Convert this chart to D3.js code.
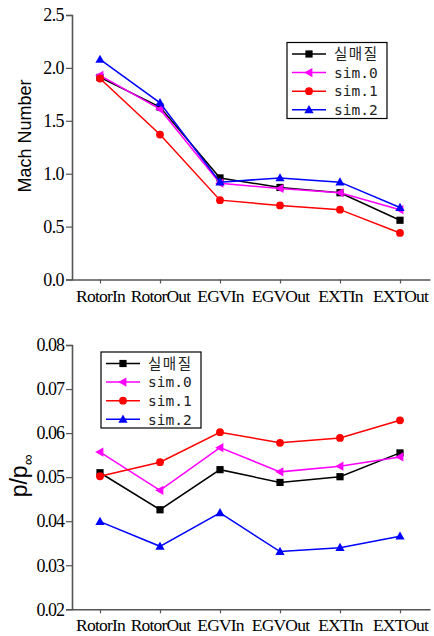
<!DOCTYPE html>
<html>
<head>
<meta charset="utf-8">
<script src="https://cdn.jsdelivr.net/npm/d3@7"></script>
<style>
  body { margin: 0; background: #fff; }
  svg { display: block; }
  .tick text { font-family: 'Liberation Serif', 'DejaVu Serif', serif; }
</style>
</head>
<body>
<div id="viz"></div>
<script>
// categories along x
var categories = ['RotorIn', 'RotorOut', 'EGVIn', 'EGVOut', 'EXTIn', 'EXTOut'];
var seriesNames = ['실매질', 'sim.0', 'sim.1', 'sim.2'];

// top chart - Mach number
var machReal = [1.91, 1.63, 0.96, 0.87, 0.82, 0.56];
var machSim0 = [1.93, 1.61, 0.91, 0.86, 0.82, 0.66];
var machSim1 = [1.90, 1.37, 0.75, 0.70, 0.66, 0.44];
var machSim2 = [2.08, 1.67, 0.92, 0.96, 0.92, 0.68];
var machTicks = [0.0, 0.5, 1.0, 1.5, 2.0, 2.5];

// bottom chart - p/p00
var presReal = [0.0510, 0.0426, 0.0517, 0.0488, 0.0501, 0.0555];
var presSim0 = [0.0557, 0.0470, 0.0567, 0.0512, 0.0525, 0.0546];
var presSim1 = [0.0502, 0.0534, 0.0602, 0.0578, 0.0589, 0.0629];
var presSim2 = [0.0399, 0.0343, 0.0419, 0.0331, 0.0340, 0.0366];
var presTicks = [0.02, 0.03, 0.04, 0.05, 0.06, 0.07, 0.08];

var colors = ['#000000', '#ff00ff', '#ff0000', '#0000ff'];
var shapes = ['square', 'left', 'circle', 'up'];

var width = 434, height = 636;
var axisColor = '#555';
var serif = 'Liberation Serif';

var svg = d3.select('#viz').append('svg')
  .attr('width', width)
  .attr('height', height);

var xScale = d3.scaleLinear()
  .domain([-0.4667, 5.5])
  .range([72, 430]);

function marker(g, shape, color, x, y) {
  if (shape == 'square') {
    g.append('rect').attr('x', x - 3.6).attr('y', y - 3.6)
      .attr('width', 7.2).attr('height', 7.2).attr('fill', color);
  } else if (shape == 'circle') {
    g.append('circle').attr('cx', x).attr('cy', y).attr('r', 3.9).attr('fill', color);
  } else if (shape == 'up') {
    g.append('path').attr('d', 'M' + x + ',' + (y - 4.8) + 'L' + (x + 4.6) + ',' + (y + 3.4) + 'L' + (x - 4.6) + ',' + (y + 3.4) + 'Z')
      .attr('fill', color);
  } else {
    g.append('path').attr('d', 'M' + (x - 4.8) + ',' + y + 'L' + (x + 3.4) + ',' + (y - 4.6) + 'L' + (x + 3.4) + ',' + (y + 4.6) + 'Z')
      .attr('fill', color);
  }
}

function drawChart(opt) {
  var g = svg.append('g');
  var yScale = d3.scaleLinear().domain(opt.domain).range(opt.range);

  // axes
  var yAxis = d3.axisLeft(yScale)
    .tickValues(opt.ticks)
    .tickSize(6)
    .tickPadding(2)
    .tickFormat(d3.format(opt.fmt));
  var yg = g.append('g').attr('transform', 'translate(72,0)').call(yAxis)
    .attr('font-family', serif)
    .attr('font-size', 18);
  yg.select('.domain').attr('stroke', axisColor).attr('stroke-width', 1.6);
  yg.selectAll('.tick line').attr('stroke', axisColor).attr('stroke-width', 1.2);
  yg.selectAll('.tick text')
    .attr('fill', '#000')
    .attr('font-family', serif)
    .attr('letter-spacing', opt.tickSpacing);

  var xAxis = d3.axisBottom(xScale)
    .tickValues(d3.range(categories.length))
    .tickSize(4)
    .tickPadding(opt.xPad)
    .tickSizeOuter(0)
    .tickFormat(function(d) { return categories[d]; });
  var xg = g.append('g').attr('transform', 'translate(0,' + opt.range[0] + ')').call(xAxis)
    .attr('font-family', serif)
    .attr('font-size', 17.5);
  xg.select('.domain').attr('stroke', axisColor).attr('stroke-width', 1.6);
  xg.selectAll('.tick line').attr('stroke', axisColor).attr('stroke-width', 1.2);
  xg.selectAll('.tick text')
    .attr('fill', '#000')
    .attr('font-family', serif)
    .attr('letter-spacing', -0.8);

  // y label
  opt.label(g);

  // lines + markers
  var line = d3.line()
    .x(function(d, i) { return xScale(i); })
    .y(function(d) { return yScale(d); });

  opt.series.forEach(function(s, k) {
    g.append('path')
      .datum(s)
      .attr('d', line)
      .attr('fill', 'none')
      .attr('stroke', colors[k])
      .attr('stroke-width', 1.5);
    s.forEach(function(v, i) {
      marker(g, shapes[k], colors[k], xScale(i), yScale(v));
    });
  });

  // legend
  var lg = g.append('g').attr('transform', 'translate(' + opt.legend[0] + ',' + opt.legend[1] + ')');
  lg.append('rect')
    .attr('x', 0).attr('y', 0)
    .attr('width', 100).attr('height', 76)
    .attr('fill', '#fff')
    .attr('stroke', '#000')
    .attr('stroke-width', 1.2);
  seriesNames.forEach(function(name, k) {
    var yy = 11.5 + k * 18.6;
    lg.append('line')
      .attr('x1', 5).attr('x2', 39)
      .attr('y1', yy).attr('y2', yy)
      .attr('stroke', colors[k]).attr('stroke-width', 1.5);
    marker(lg, shapes[k], colors[k], 22, yy);
    lg.append('text')
      .attr('x', 47).attr('y', yy)
      .attr('dy', '0.36em')
      .style('font-family', '"DejaVu Sans Mono", "Noto Sans CJK KR", monospace')
      .style('font-size', '14.5px')
      .style('letter-spacing', k == 0 ? '1.5px' : '0px')
      .attr('fill', '#222')
      .text(name);
  });
}

drawChart({
  domain: [0, 2.5],
  range: [279.5, 15],
  ticks: machTicks,
  fmt: '.1f',
  tickSpacing: -0.6,
  xPad: 6,
  series: [machReal, machSim0, machSim1, machSim2],
  legend: [287, 42.5],
  label: function(g) {
    g.append('text')
      .attr('transform', 'translate(31,136) rotate(-90)')
      .attr('text-anchor', 'middle')
      .style('font-family', '"Liberation Sans", Arial, sans-serif')
      .style('font-size', '18px')
      .attr('fill', '#000')
      .text('Mach Number');
  }
});

drawChart({
  domain: [0.02, 0.08],
  range: [609.3, 345],
  ticks: presTicks,
  fmt: '.2f',
  tickSpacing: -1,
  xPad: 5,
  series: [presReal, presSim0, presSim1, presSim2],
  legend: [101, 352],
  label: function(g) {
    var t = g.append('text')
      .attr('transform', 'translate(27,476) rotate(-90)')
      .attr('text-anchor', 'middle')
      .style('font-family', '"Liberation Sans", Arial, sans-serif')
      .style('font-size', '23px')
      .attr('fill', '#000');
    t.append('tspan').text('p/p');
    t.append('tspan')
      .attr('dy', 6)
      .style('font-size', '15px')
      .text('∞');
  }
});
</script>
</body>
</html>
